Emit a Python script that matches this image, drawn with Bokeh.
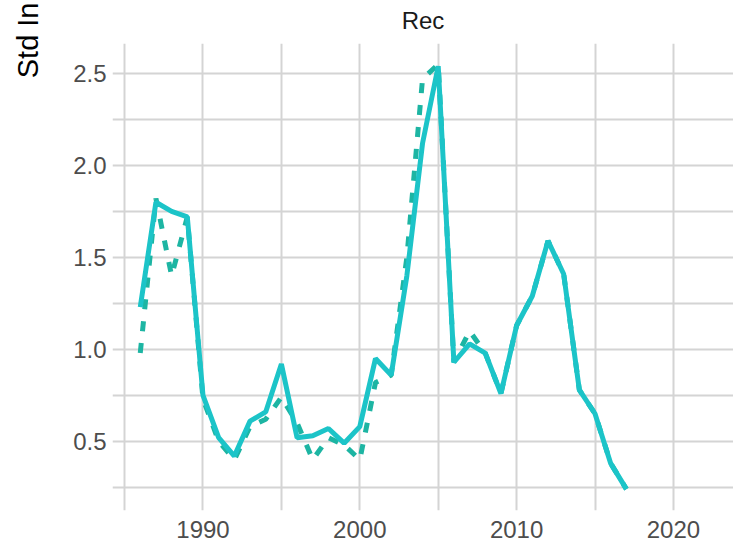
from bokeh.plotting import figure
from bokeh.models import (FixedTicker, Title, ColumnDataSource,
                          PrintfTickFormatter, LinearAxis)
from bokeh.embed import file_html
from bokeh.resources import INLINE

# ---- data ----
years = list(range(1986, 2018))
rec_solid = [1.23, 1.80, 1.75, 1.72, 0.75, 0.52, 0.42, 0.61, 0.66, 0.92,
             0.52, 0.53, 0.57, 0.49, 0.58, 0.95, 0.86, 1.40, 2.12, 2.54,
             0.93, 1.03, 0.98, 0.76, 1.13, 1.29, 1.59, 1.41, 0.78, 0.65,
             0.38, 0.24]
rec_dashed = [0.98, 1.82, 1.40, 1.72, 0.73, 0.50, 0.40, 0.58, 0.62, 0.74,
              0.60, 0.40, 0.52, 0.48, 0.40, 0.82, 0.86, 1.50, 2.47, 2.55,
              0.93, 1.10, 0.98, 0.76, 1.13, 1.29, 1.59, 1.41, 0.78, 0.65,
              0.38, 0.24]
x_major = [1990, 2000, 2010, 2020]
x_minor = [1985, 1995, 2005, 2015, 2025]
y_major = [0.5, 1.0, 1.5, 2.0, 2.5]
y_minor = [0.25, 0.75, 1.25, 1.75, 2.25]
panel_title = "Rec"
y_title = "Std In"

src = ColumnDataSource(dict(year=years, solid=rec_solid, dashed=rec_dashed))

p = figure(width=733, height=547, output_backend="svg", toolbar_location=None,
           x_range=(1984.23, 2023.83), y_range=(0.124, 2.663),
           min_border_left=112, min_border_right=0, min_border_top=43,
           min_border_bottom=37)
p.outline_line_color = None
p.background_fill_color = "white"
p.border_fill_color = "white"

p.line("year", "dashed", source=src, line_color="#1DB5A3", line_width=5,
       line_dash="10 12")
p.line("year", "solid", source=src, line_color="#1CC4C8", line_width=5)

p.xaxis.ticker = FixedTicker(ticks=x_major, minor_ticks=x_minor)
p.yaxis.ticker = FixedTicker(ticks=y_major, minor_ticks=y_minor)
p.yaxis.formatter = PrintfTickFormatter(format="%.1f")

for ax in (p.xaxis[0], p.yaxis[0]):
    ax.axis_line_color = None
    ax.major_tick_line_color = None
    ax.minor_tick_line_color = None
    ax.major_tick_out = 0
    ax.major_tick_in = 0
    ax.minor_tick_out = 0
    ax.minor_tick_in = 0
    ax.major_label_text_font = "Liberation Sans"
    ax.major_label_text_font_size = "24px"
    ax.major_label_text_color = "#4d4d4d"
p.yaxis.major_label_standoff = 6
p.xaxis.major_label_standoff = 10
# blank axis label used only as a spacer between tick labels and y title
p.yaxis.axis_label = " "
p.yaxis.axis_label_text_font_size = "17px"
p.yaxis.axis_label_standoff = 0

for g in (p.xgrid[0], p.ygrid[0]):
    g.grid_line_color = "#d4d4d4"
    g.grid_line_width = 2
    g.minor_grid_line_color = "#d4d4d4"
    g.minor_grid_line_width = 2

# panel strip title as the label of an unticked top axis
top_ax = LinearAxis(axis_label=panel_title, ticker=FixedTicker(ticks=[]),
                    axis_line_color=None, major_tick_line_color=None,
                    minor_tick_line_color=None, major_tick_out=0,
                    minor_tick_out=0, major_label_standoff=0,
                    major_label_text_font_size="0px",
                    axis_label_standoff=10,
                    axis_label_text_font="Liberation Sans",
                    axis_label_text_font_size="24px",
                    axis_label_text_font_style="normal",
                    axis_label_text_color="#1a1a1a")
p.add_layout(top_ax, "above")

ytitle = Title(text=y_title, align="right", offset=-41,
               text_font="Liberation Sans", text_font_size="29px",
               text_font_style="normal", text_color="black")
p.add_layout(ytitle, "left")

open("out.html", "w").write(file_html(p, INLINE))
